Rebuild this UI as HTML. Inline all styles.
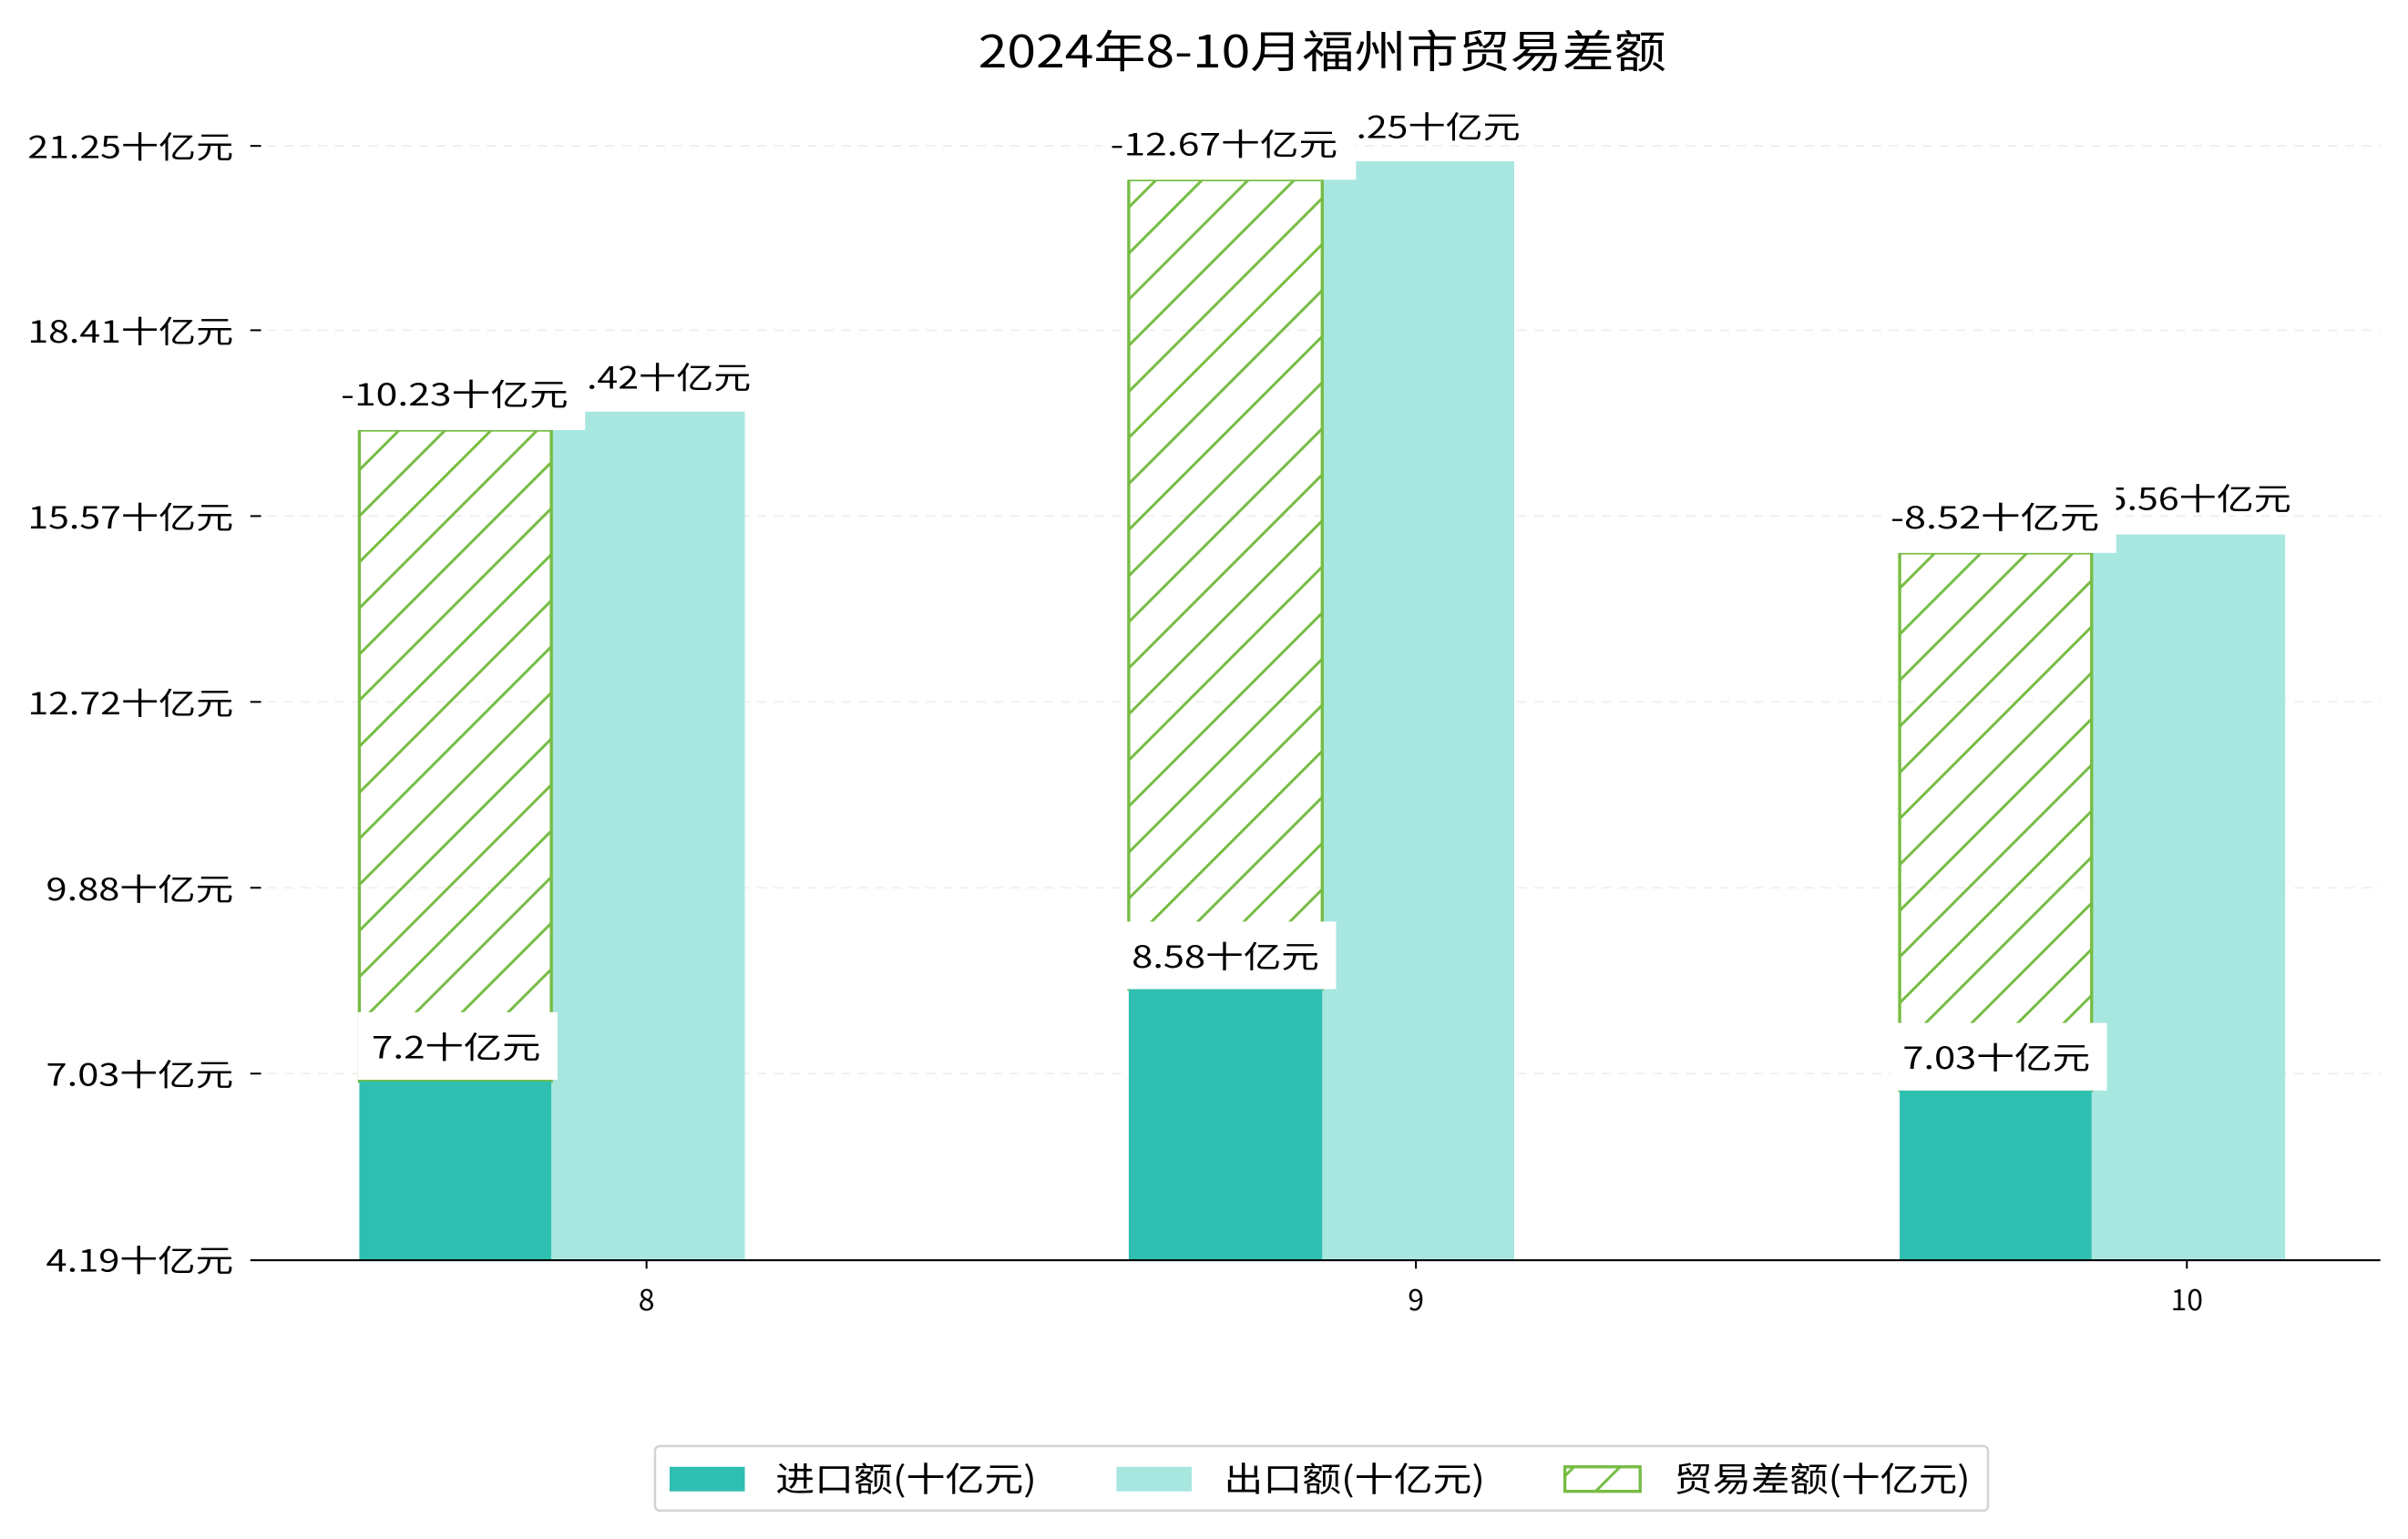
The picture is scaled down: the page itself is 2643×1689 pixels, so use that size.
<!DOCTYPE html>
<html><head><meta charset="utf-8"><style>
html,body{margin:0;padding:0;background:#fff;}
svg{display:block;}
text{font-family:"WenQuanYi Zen Hei","Noto Sans CJK SC","Liberation Sans",sans-serif;fill:#000;}
</style></head><body>
<svg width="2643" height="1689" viewBox="0 0 1568 1002" xmlns="http://www.w3.org/2000/svg">
<defs>
<pattern id="h" patternUnits="userSpaceOnUse" width="30" height="30">
<path d="M-5,5 L5,-5 M0,30 L30,0 M25,35 L35,25" stroke="#76bc43" stroke-width="1.8"/>
</pattern>
</defs>
<text x="861" y="44" font-size="29" text-anchor="middle" textLength="448" lengthAdjust="spacingAndGlyphs">2024年8-10月福州市贸易差额</text>
<g stroke="#eeeeee" stroke-width="1" stroke-dasharray="6,5">
<line x1="163" x2="1550" y1="95" y2="95"/><line x1="163" x2="1550" y1="215" y2="215"/>
<line x1="163" x2="1550" y1="336" y2="336"/><line x1="163" x2="1550" y1="457" y2="457"/>
<line x1="163" x2="1550" y1="578" y2="578"/><line x1="163" x2="1550" y1="699" y2="699"/>
</g>
<g stroke="#000" stroke-width="1.2">
<line x1="163" x2="170" y1="95" y2="95"/><line x1="163" x2="170" y1="215" y2="215"/>
<line x1="163" x2="170" y1="336" y2="336"/><line x1="163" x2="170" y1="457" y2="457"/>
<line x1="163" x2="170" y1="578" y2="578"/><line x1="163" x2="170" y1="699" y2="699"/>
</g>
<g font-size="20" text-anchor="end">
<text x="152" y="103" textLength="134" lengthAdjust="spacingAndGlyphs">21.25十亿元</text>
<text x="152" y="223" textLength="134" lengthAdjust="spacingAndGlyphs">18.41十亿元</text>
<text x="152" y="344" textLength="134" lengthAdjust="spacingAndGlyphs">15.57十亿元</text>
<text x="152" y="465" textLength="134" lengthAdjust="spacingAndGlyphs">12.72十亿元</text>
<text x="152" y="586" textLength="122" lengthAdjust="spacingAndGlyphs">9.88十亿元</text>
<text x="152" y="707" textLength="122" lengthAdjust="spacingAndGlyphs">7.03十亿元</text>
<text x="152" y="828" textLength="122" lengthAdjust="spacingAndGlyphs">4.19十亿元</text>
</g>
<rect x="359" y="268" width="126" height="552" fill="#a8e6e0"/>
<rect x="861" y="105" width="125" height="715" fill="#a8e6e0"/>
<rect x="1362" y="348" width="126" height="472" fill="#a8e6e0"/>
<rect x="234" y="280" width="125" height="424" fill="url(#h)" stroke="#76bc43" stroke-width="2"/>
<rect x="735" y="117" width="126" height="527" fill="url(#h)" stroke="#76bc43" stroke-width="2"/>
<rect x="1237" y="360" width="125" height="350" fill="url(#h)" stroke="#76bc43" stroke-width="2"/>
<rect x="234" y="704" width="125" height="116" fill="#2ebfb1"/>
<rect x="735" y="644" width="126" height="176" fill="#2ebfb1"/>
<rect x="1237" y="710" width="125" height="110" fill="#2ebfb1"/>
<g font-size="20" text-anchor="middle">
<text x="422" y="253" textLength="134" lengthAdjust="spacingAndGlyphs">17.42十亿元</text>
<text x="923" y="90" textLength="134" lengthAdjust="spacingAndGlyphs">21.25十亿元</text>
<text x="1425" y="332" textLength="134" lengthAdjust="spacingAndGlyphs">15.56十亿元</text>
</g>
<g fill="#fff">
<rect x="218" y="236" width="163" height="44"/>
<rect x="718" y="73" width="165" height="44"/>
<rect x="1225" y="316" width="153" height="44"/>
<rect x="233" y="659" width="130" height="44"/>
<rect x="729" y="600" width="141" height="44"/>
<rect x="1232" y="666" width="140" height="44"/>
</g>
<g font-size="20" text-anchor="middle">
<text x="296" y="264" textLength="148" lengthAdjust="spacingAndGlyphs">-10.23十亿元</text>
<text x="797" y="101" textLength="148" lengthAdjust="spacingAndGlyphs">-12.67十亿元</text>
<text x="1299" y="344" textLength="136" lengthAdjust="spacingAndGlyphs">-8.52十亿元</text>
<text x="297" y="689" textLength="110" lengthAdjust="spacingAndGlyphs">7.2十亿元</text>
<text x="798" y="630" textLength="122" lengthAdjust="spacingAndGlyphs">8.58十亿元</text>
<text x="1300" y="696" textLength="122" lengthAdjust="spacingAndGlyphs">7.03十亿元</text>
</g>
<line x1="163" x2="1550" y1="820.5" y2="820.5" stroke="#000" stroke-width="1.3"/>
<g stroke="#000" stroke-width="1.2">
<line x1="421" x2="421" y1="820" y2="826"/><line x1="922" x2="922" y1="820" y2="826"/><line x1="1424" x2="1424" y1="820" y2="826"/>
</g>
<g font-size="19" text-anchor="middle">
<text x="421" y="853">8</text><text x="922" y="853">9</text><text x="1424" y="853">10</text>
</g>
<rect x="426.5" y="941.5" width="868" height="42" rx="3" fill="#fff" stroke="#d4d4d4" stroke-width="1.5"/>
<rect x="436" y="955" width="49" height="16" fill="#2ebfb1"/>
<rect x="727" y="955" width="49" height="16" fill="#a8e6e0"/>
<rect x="1019" y="955" width="49" height="16" fill="url(#h)" stroke="#76bc43" stroke-width="2"/>
<g font-size="22">
<text x="505" y="971" textLength="170" lengthAdjust="spacingAndGlyphs">进口额(十亿元)</text>
<text x="797" y="971" textLength="170" lengthAdjust="spacingAndGlyphs">出口额(十亿元)</text>
<text x="1090" y="971" textLength="193" lengthAdjust="spacingAndGlyphs">贸易差额(十亿元)</text>
</g>
</svg>
</body></html>
